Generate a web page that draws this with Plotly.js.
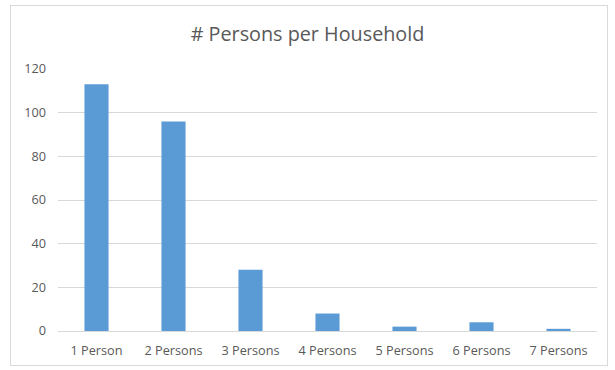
<!DOCTYPE html>
<html>
<head>
<meta charset="utf-8">
<script src="https://cdn.plot.ly/plotly-3.0.1.min.js"></script>
<style>
  html, body { margin: 0; padding: 0; background: #ffffff; }
  #wrap { position: relative; width: 615px; height: 370px; }
  #frame { position: absolute; left: 10px; top: 5px; width: 598px; height: 361px;
           border: 1px solid #d9d9d9; box-sizing: border-box; }
  #chart { position: absolute; left: 0; top: 0; width: 615px; height: 370px; }
</style>
</head>
<body>
<div id="wrap">
  <div id="frame"></div>
  <div id="chart"></div>
</div>
<script>
// Household sizes and how many households have each size
const categories = ["1 Person", "2 Persons", "3 Persons", "4 Persons", "5 Persons", "6 Persons", "7 Persons"];
const households = [113, 96, 28, 8, 2, 4, 1];
const yTicks = [0, 20, 40, 60, 80, 100, 120];

const textColor = "#595959";
const gridColor = "#d9d9d9";
const font = "Open Sans, Liberation Sans, sans-serif";

const trace = {
  type: "bar",
  x: categories,
  y: households,
  marker: { color: "#5b9bd5" },
  hoverinfo: "x+y"
};

const layout = {
  width: 615,
  height: 370,
  margin: { l: 58, r: 18, t: 69, b: 39 },
  paper_bgcolor: "rgba(0,0,0,0)",
  plot_bgcolor: "rgba(0,0,0,0)",
  bargap: 0.687,
  showlegend: false,
  title: {
    text: "# Persons per Household",
    font: { family: font, size: 19.8, color: textColor },
    x: 0.5, xanchor: "center",
    y: 0.908, yanchor: "middle"
  },
  xaxis: {
    type: "category",
    showgrid: false,
    showline: true,
    linecolor: gridColor,
    linewidth: 1,
    ticks: "",
    tickfont: { family: font, size: 12.7, color: textColor },
    ticklabelstandoff: 8
  },
  yaxis: {
    range: [0, 120],
    tickvals: yTicks,
    ticktext: yTicks.map(String),
    showgrid: true,
    gridcolor: gridColor,
    gridwidth: 1,
    zeroline: false,
    showline: false,
    ticks: "",
    tickfont: { family: font, size: 12.7, color: textColor },
    ticklabelstandoff: 11
  }
};

Plotly.newPlot("chart", [trace], layout, { displayModeBar: false, staticPlot: true });
</script>
</body>
</html>
